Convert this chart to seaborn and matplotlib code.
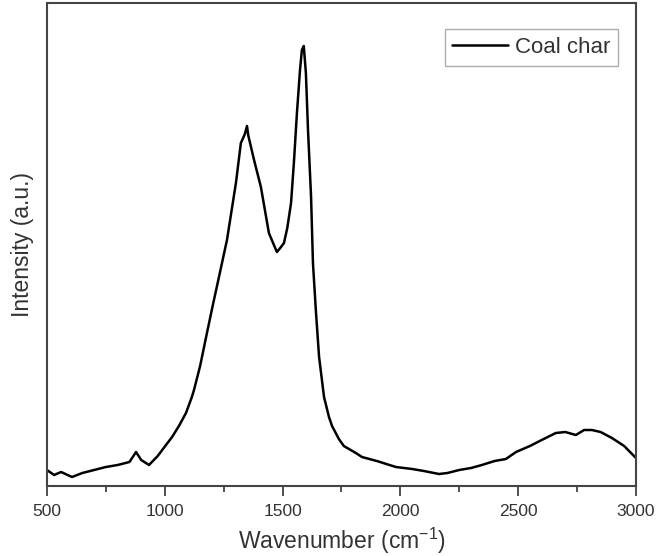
import matplotlib
matplotlib.use("Agg")
import matplotlib.pyplot as plt
import seaborn as sns
import pandas as pd

wavenumber = [500, 530, 560, 606, 650, 700, 750, 800, 850, 878, 900, 933, 970,
              1005, 1031, 1060, 1090, 1115, 1124, 1150, 1179, 1205, 1230, 1264,
              1302, 1323, 1340, 1349, 1355, 1365, 1379, 1408, 1442, 1465, 1476,
              1490, 1506, 1520, 1536, 1548, 1561, 1574, 1582, 1590, 1599, 1608,
              1621, 1629, 1642, 1655, 1676, 1697, 1710, 1739, 1760, 1811, 1837,
              1900, 1981, 2050, 2100, 2164, 2200, 2250, 2300, 2346, 2400, 2448,
              2491, 2550, 2600, 2660, 2700, 2745, 2780, 2813, 2850, 2898, 2950, 3000]
intensity = [16, 11, 14, 9, 13, 16, 19, 21, 24, 34, 26, 21, 30,
             41, 49, 60, 73, 89, 96, 120, 153, 182, 209, 246,
             303, 343, 352, 360, 350, 340, 326, 299, 253, 240, 234,
             238, 243, 258, 283, 323, 373, 416, 436, 440, 413, 356,
             289, 223, 173, 129, 89, 69, 60, 47, 40, 33, 29,
             25, 19, 17, 15, 12, 13, 16, 18, 21, 25, 27,
             34, 40, 46, 53, 54, 51, 56, 56, 54, 48, 40, 28]
series_name = "Coal char"
xticks = [500, 1000, 1500, 2000, 2500, 3000]

sns.set_style("ticks")
plt.rcParams['font.family'] = ['Liberation Sans', 'DejaVu Sans']
plt.rcParams['mathtext.fontset'] = 'custom'
plt.rcParams['mathtext.rm'] = 'Liberation Sans'
plt.rcParams['mathtext.default'] = 'regular'

df = pd.DataFrame({"Wavenumber": wavenumber, "Intensity": intensity,
                   "Sample": series_name})

fig = plt.figure(figsize=(6.59, 5.56), dpi=100)
ax = fig.add_axes([0.0713, 0.1259, 0.8937, 0.8687])

sns.lineplot(data=df, x="Wavenumber", y="Intensity", hue="Sample",
             palette=["black"], linewidth=1.8, ax=ax, estimator=None, sort=False)

ax.set_xlim(500, 3000)
ax.set_ylim(0, 483)
ax.set_xticks(xticks)
ax.set_xticks([750, 1250, 1750, 2250, 2750], minor=True)
ax.set_yticks([])
ax.tick_params(axis='x', which='major', direction='out', length=7, width=1.2,
               labelsize=12.5, colors='#333333', pad=6)
ax.tick_params(axis='x', which='minor', direction='out', length=4, width=1.2,
               colors='#333333')
for s in ax.spines.values():
    s.set_visible(True)
    s.set_color('#444444')
    s.set_linewidth(1.5)

ax.set_xlabel("Wavenumber (cm$^{-1}$)", fontsize=16.5, color='#333333', labelpad=5)
ax.set_ylabel("Intensity (a.u.)", fontsize=16.5, color='#333333', labelpad=9)

leg = ax.legend(loc='upper right', bbox_to_anchor=(0.969, 0.946), fontsize=16,
                frameon=True, fancybox=False, edgecolor='#999999',
                handlelength=2.5, handletextpad=0.3, borderpad=0.35,
                borderaxespad=0)
leg.get_frame().set_linewidth(1.0)
for t in leg.get_texts():
    t.set_color('#333333')

fig.savefig("out.png", dpi=100)
